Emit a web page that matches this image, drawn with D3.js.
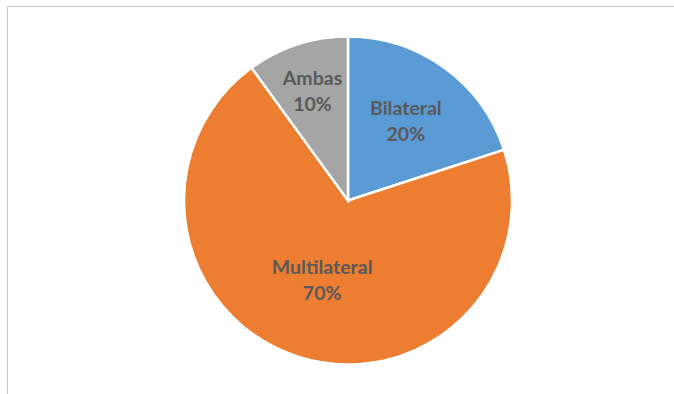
<!DOCTYPE html>
<html>
<head>
<meta charset="utf-8">
<script src="https://cdn.jsdelivr.net/npm/d3@7/dist/d3.min.js"></script>
<style>
  html, body { margin: 0; padding: 0; background: #fff; }
  svg { display: block; }
</style>
</head>
<body>
<svg id="chart" width="674" height="394"></svg>
<script>
// Distribution by channel type
const categories = ["Bilateral", "Multilateral", "Ambas"];
const values = [20, 70, 10];
const colors = ["#5B9BD5", "#ED7D31", "#A5A5A5"];

const svg = d3.select("#chart");
const W = 674, H = 394;

// Chart area frame
svg.append("rect")
  .attr("x", 7.5).attr("y", 6.5)
  .attr("width", W).attr("height", H)
  .attr("fill", "none")
  .attr("stroke", "#c8c8c8")
  .attr("stroke-width", 1);

const cx = 348, cy = 200.5, R = 164;
const total = d3.sum(values);

const pie = d3.pie().sort(null).value(d => d.value);
const arcs = pie(categories.map((c, i) => ({ name: c, value: values[i], color: colors[i] })));

const arc = d3.arc().innerRadius(0).outerRadius(R);

const g = svg.append("g").attr("transform", `translate(${cx},${cy})`);

g.selectAll("path.slice")
  .data(arcs)
  .join("path")
  .attr("class", "slice")
  .attr("d", arc)
  .attr("fill", d => d.data.color)
  .attr("stroke", "#fff")
  .attr("stroke-width", 2.5)
  .attr("stroke-linejoin", "miter");

// Label distance from centre, as a share of the radius, per slice
const labelRadius = { "Bilateral": 0.60, "Multilateral": 0.51, "Ambas": 0.70 };

const labels = g.selectAll("text.lbl")
  .data(arcs)
  .join("text")
  .attr("class", "lbl")
  .attr("transform", d => {
    const a = (d.startAngle + d.endAngle) / 2;
    const r = R * labelRadius[d.data.name];
    return `translate(${r * Math.sin(a)},${-r * Math.cos(a)})`;
  })
  .attr("text-anchor", "middle")
  .attr("font-family", "Lato, 'Open Sans', sans-serif")
  .attr("font-weight", "bold")
  .attr("font-size", 19.5)
  .attr("fill", "#595959");

labels.append("tspan")
  .attr("x", 0).attr("dy", -6)
  .text(d => d.data.name);
labels.append("tspan")
  .attr("x", 0).attr("dy", 26)
  .text(d => Math.round(d.data.value / total * 100) + "%");
</script>
</body>
</html>
